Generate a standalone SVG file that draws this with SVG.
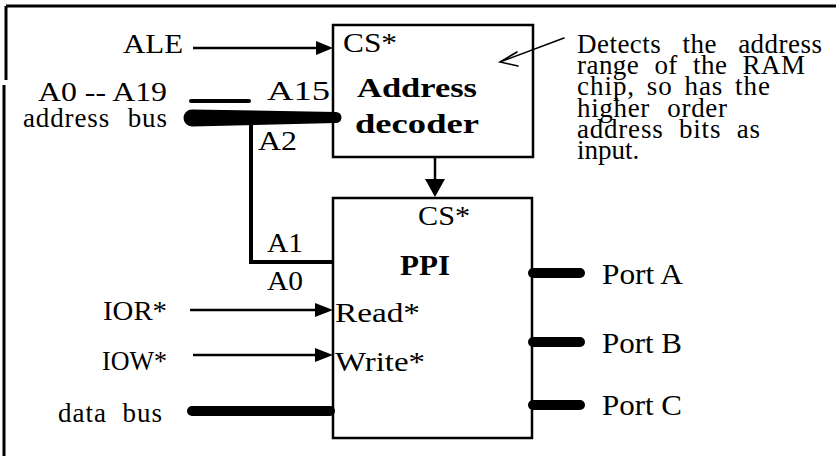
<svg xmlns="http://www.w3.org/2000/svg" width="836" height="456" viewBox="0 0 836 456">
<style>
  .t { font-family: "Liberation Serif", "Times New Roman", serif; fill: #000; }
  .b { font-weight: bold; }
  .box { fill: #fff; stroke: #000; stroke-width: 2.5; }
  .wire { stroke: #000; stroke-width: 2.5; fill: none; }
  .bus { stroke: #000; stroke-width: 10; stroke-linecap: round; fill: none; }
  .frame { stroke: #000; stroke-width: 3; fill: none; }
  .head { fill: #000; stroke: none; }
  .pen { stroke: #000; stroke-width: 1.6; fill: none; stroke-linecap: round; }
  .note { font-size: 27px; }
</style>
<rect width="836" height="456" fill="#fff"/>
<g id="frame">
  <line class="frame" x1="6" y1="6" x2="836" y2="6"/>
  <line class="frame" x1="6" y1="6" x2="6" y2="80"/>
  <line class="frame" x1="4" y1="85" x2="4" y2="456"/>
</g>
<g id="decoder">
  <rect class="box" x="333" y="25" width="200" height="132"/>
  <text class="t" x="343" y="52" font-size="27" textLength="54" lengthAdjust="spacingAndGlyphs">CS*</text>
  <text class="t b" x="357" y="97" font-size="27" textLength="120" lengthAdjust="spacingAndGlyphs">Address</text>
  <text class="t b" x="355" y="133" font-size="27" textLength="124" lengthAdjust="spacingAndGlyphs">decoder</text>
</g>
<g id="ppi">
  <rect class="box" x="333" y="198" width="199" height="240"/>
  <text class="t" x="418" y="225" font-size="27" textLength="52" lengthAdjust="spacingAndGlyphs">CS*</text>
  <text class="t b" x="400" y="275" font-size="29" textLength="50" lengthAdjust="spacingAndGlyphs">PPI</text>
  <text class="t" x="335" y="322" font-size="28" textLength="85" lengthAdjust="spacingAndGlyphs">Read*</text>
  <text class="t" x="335" y="371" font-size="28" textLength="90" lengthAdjust="spacingAndGlyphs">Write*</text>
</g>
<g id="connectors">
  <line class="wire" x1="193" y1="48" x2="318" y2="48"/>
  <polygon class="head" points="316,41 333,48 316,55"/>
  <line class="wire" x1="190" y1="310" x2="317" y2="310"/>
  <polygon class="head" points="315,303 333,310 315,317"/>
  <line class="wire" x1="193" y1="355" x2="317" y2="355"/>
  <polygon class="head" points="315,348 333,355 315,362"/>
  <line class="wire" x1="435" y1="157" x2="435" y2="181"/>
  <polygon class="head" points="425,179 445,179 435,197"/>
  <path class="head" d="M192,109.5 L336,112 A5.5,5.5 0 0 1 336,123 L192,126.5 A8.5,8.5 0 0 1 192,109.5 Z"/>
  <line stroke="#000" stroke-width="4" stroke-linecap="round" x1="191" y1="101" x2="249" y2="101"/>
  <polyline fill="none" stroke="#000" stroke-width="4" points="251,124 251,262 333,262"/>
  <line class="bus" x1="192" y1="411" x2="330" y2="411"/>
  <line class="bus" x1="533" y1="273" x2="580" y2="273"/>
  <line class="bus" x1="533" y1="342" x2="580" y2="342"/>
  <line class="bus" x1="533" y1="405" x2="580" y2="405"/>
</g>
<g id="labels">
  <text class="t" x="123" y="53" font-size="27" textLength="60" lengthAdjust="spacingAndGlyphs">ALE</text>
  <text class="t" x="38" y="101" font-size="28" textLength="129" lengthAdjust="spacingAndGlyphs">A0 -- A19</text>
  <text class="t" x="23" y="127" font-size="27" textLength="144" lengthAdjust="spacing" word-spacing="10">address bus</text>
  <text class="t" x="267" y="100" font-size="28" textLength="63" lengthAdjust="spacingAndGlyphs">A15</text>
  <text class="t" x="258" y="150" font-size="28" textLength="39" lengthAdjust="spacingAndGlyphs">A2</text>
  <text class="t" x="267" y="252" font-size="27" textLength="36" lengthAdjust="spacingAndGlyphs">A1</text>
  <text class="t" x="267" y="290" font-size="27" textLength="36" lengthAdjust="spacingAndGlyphs">A0</text>
  <text class="t" x="103" y="320" font-size="28" textLength="64" lengthAdjust="spacingAndGlyphs">IOR*</text>
  <text class="t" x="102" y="370" font-size="28" textLength="65" lengthAdjust="spacingAndGlyphs">IOW*</text>
  <text class="t" x="58" y="422" font-size="27" textLength="104" lengthAdjust="spacing" word-spacing="8">data bus</text>
  <text class="t" x="602" y="284" font-size="30" textLength="81" lengthAdjust="spacingAndGlyphs">Port A</text>
  <text class="t" x="602" y="353" font-size="30" textLength="80" lengthAdjust="spacingAndGlyphs">Port B</text>
  <text class="t" x="602" y="415" font-size="30" textLength="80" lengthAdjust="spacingAndGlyphs">Port C</text>
</g>
<g id="note">
  <path class="pen" d="M564,38 L500,62 M517,52 L500,62 L518,66"/>
  <text class="t note" x="577" y="53" word-spacing="14" textLength="245" lengthAdjust="spacing">Detects the address</text>
  <text class="t note" x="577" y="74" word-spacing="8" textLength="228" lengthAdjust="spacing">range of the RAM</text>
  <text class="t note" x="577" y="95" word-spacing="4" textLength="193" lengthAdjust="spacing">chip, so has the</text>
  <text class="t note" x="577" y="117" word-spacing="10" textLength="150" lengthAdjust="spacing">higher order</text>
  <text class="t note" x="577" y="138" word-spacing="8" textLength="183" lengthAdjust="spacing">address bits as</text>
  <text class="t note" x="577" y="159">input.</text>
</g>
</svg>
